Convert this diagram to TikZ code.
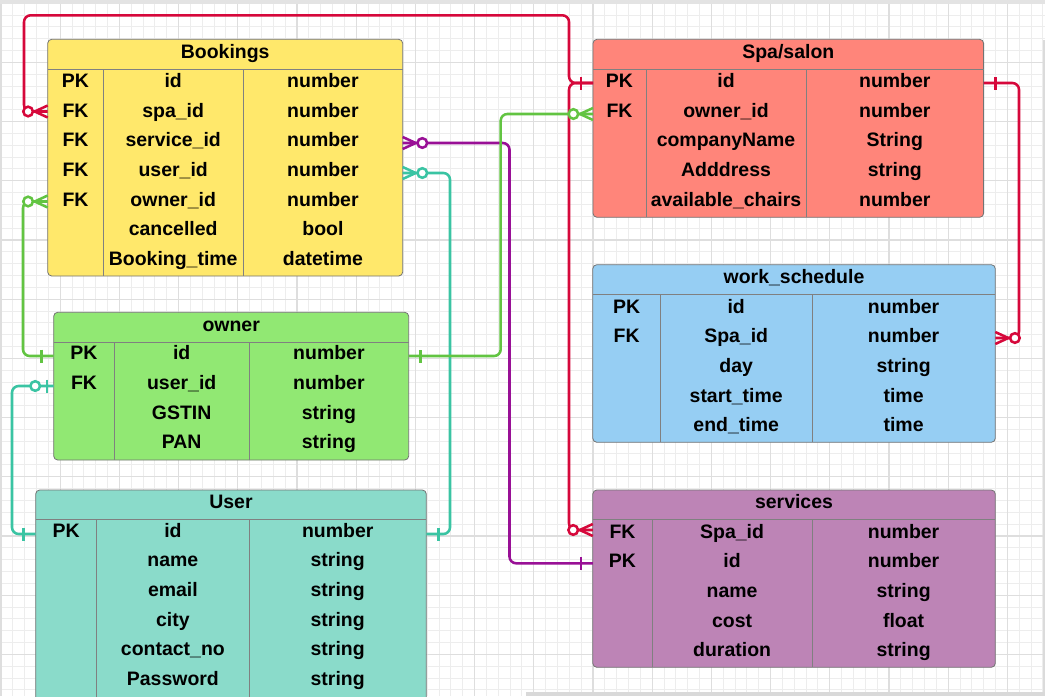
\documentclass[tikz,border=0pt]{standalone}
\usepackage{fontspec}
\setmainfont{Liberation Sans}
\definecolor{cRed}{HTML}{D6083B}
\definecolor{cGreen}{HTML}{62C442}
\definecolor{cTeal}{HTML}{3AC4A3}
\definecolor{cPurple}{HTML}{991096}
\definecolor{fBk}{HTML}{FFE86B}
\definecolor{fSp}{HTML}{FF857A}
\definecolor{fOw}{HTML}{91E873}
\definecolor{fUs}{HTML}{8ADBCA}
\definecolor{fWs}{HTML}{96CEF3}
\definecolor{fSv}{HTML}{BD84B6}
\definecolor{gMinor}{HTML}{EDEDED}
\definecolor{gMajor}{HTML}{DEDEDE}
\tikzset{
  tbl/.style={draw=black!55, line width=0.6pt, rounded corners=3pt, inner sep=0pt, outer sep=0pt},
  divl/.style={draw=black!50, line width=0.6pt},
  cell/.style={inner sep=0pt, text height=9.6pt, text depth=0pt, font=\fontsize{14.6pt}{17pt}\selectfont\bfseries},
  conn/.style={line width=1.9pt, rounded corners=5pt},
  lnred/.style={conn, draw=cRed},
  lngreen/.style={conn, draw=cGreen},
  lnteal/.style={conn, draw=cTeal},
  lnpurple/.style={conn, draw=cPurple},
  crowmany/.pic={\draw[pic actions, sharp corners] (0,-6) -- (-13,0) -- (0,6);
                 \draw[pic actions, fill=white] (-19.6,0) circle (3.6pt);},
  barone/.pic={\draw[pic actions] (-12,-6.5) -- (-12,6.5);},
  zeroone/.pic={\draw[pic actions] (-6.5,-6.5) -- (-6.5,6.5);
                \draw[pic actions, fill=white] (-18.5,0) circle (3.6pt);}
}
\newcommand\ertbl[6]{\node[tbl, fill=#2, minimum width={(#5-#3)*0.75pt}, minimum height={(#6-#4)*0.75pt}] (#1) at ({(#3+#5)/2},{(#4+#6)/2}) {};}
\newcommand\erdiv[6]{\draw[divl] (#1,#3) -- (#2,#3) (#5,#3) -- (#5,#4) (#6,#3) -- (#6,#4);}
\newcommand\errow[6]{%
  \if\relax\detokenize{#4}\relax\else\node[cell] (#1-k#2) at (\colA,#3) {#4};\fi
  \node[cell] (#1-n#2) at (\colB,#3) {#5};
  \node[cell] (#1-t#2) at (\colC,#3) {#6};}
\begin{document}
\begin{tikzpicture}[x=0.75pt,y=-0.75pt]
\useasboundingbox (0,0) rectangle (1045,696);
\fill[white] (0,0) rectangle (1045,696);
% grid
\foreach \i in {0,...,88} {\draw[gMinor, line width=0.75pt] ({1+11.84*\i},0) -- ({1+11.84*\i},696);}
\foreach \j in {0,...,58} {\draw[gMinor, line width=0.75pt] (0,{3.2+11.84*\j}) -- (1045,{3.2+11.84*\j});}
\foreach \i in {0,...,17} {\draw[gMajor, line width=0.9pt] ({1+59.2*\i},0) -- ({1+59.2*\i},696);}
\foreach \j in {0,...,11} {\draw[gMajor, line width=0.9pt] (0,{3.2+59.2*\j}) -- (1045,{3.2+59.2*\j});}
\fill[gray!22] (0,0) rectangle (1045,3.5);
\fill[gray!28] (1042.5,40) rectangle (1045,696);
\fill[gray!30] (526,692) rectangle (1045,696);

% Bookings
\ertbl{bk}{fBk}{47.7}{39.3}{402.7}{276}
\erdiv{47.7}{402.7}{69.3}{276}{103.3}{243}
\node[cell] (bk-title) at (225.2,52.3) {Bookings};
\def\colA{75.5}\def\colB{173.2}\def\colC{322.9}
\errow{bk}{1}{81}{PK}{id}{number}
\errow{bk}{2}{110.7}{FK}{spa\_id}{number}
\errow{bk}{3}{140.3}{FK}{service\_id}{number}
\errow{bk}{4}{170}{FK}{user\_id}{number}
\errow{bk}{5}{199.7}{FK}{owner\_id}{number}
\errow{bk}{6}{229.3}{}{cancelled}{bool}
\errow{bk}{7}{259}{}{Booking\_time}{datetime}

% Spa/salon
\ertbl{sp}{fSp}{593}{39.3}{983.6}{217.3}
\erdiv{593}{983.6}{69.3}{217.3}{646}{806}
\node[cell] (sp-title) at (788.3,52.3) {Spa/salon};
\def\colA{619.5}\def\colB{726}\def\colC{894.8}
\errow{sp}{1}{81}{PK}{id}{number}
\errow{sp}{2}{110.7}{FK}{owner\_id}{number}
\errow{sp}{3}{140.3}{}{companyName}{String}
\errow{sp}{4}{170}{}{Adddress}{string}
\errow{sp}{5}{199.7}{}{available\_chairs}{number}

% owner
\ertbl{ow}{fOw}{53.7}{312.3}{408.7}{460}
\erdiv{53.7}{408.7}{342}{460}{114.3}{249}
\node[cell] (ow-title) at (231.2,325) {owner};
\def\colA{84}\def\colB{181.7}\def\colC{328.9}
\errow{ow}{1}{353.3}{PK}{id}{number}
\errow{ow}{2}{383}{FK}{user\_id}{number}
\errow{ow}{3}{412.7}{}{GSTIN}{string}
\errow{ow}{4}{442.3}{}{PAN}{string}

% User
\ertbl{us}{fUs}{35.7}{490}{426.3}{712}
\erdiv{35.7}{426.3}{519.3}{712}{96.7}{249}
\node[cell] (us-title) at (231,501.7) {User};
\def\colA{66.2}\def\colB{172.9}\def\colC{337.7}
\errow{us}{1}{530.7}{PK}{id}{number}
\errow{us}{2}{560.3}{}{name}{string}
\errow{us}{3}{590}{}{email}{string}
\errow{us}{4}{619.6}{}{city}{string}
\errow{us}{5}{649.2}{}{contact\_no}{string}
\errow{us}{6}{678.8}{}{Password}{string}

% work_schedule
\ertbl{ws}{fWs}{592.8}{264.7}{995.3}{442.3}
\erdiv{592.8}{995.3}{294.3}{442.3}{660.5}{811.9}
\node[cell] (ws-title) at (794,277.3) {work\_schedule};
\def\colA{626.6}\def\colB{736.2}\def\colC{903.6}
\errow{ws}{1}{306.7}{PK}{id}{number}
\errow{ws}{2}{336.3}{FK}{Spa\_id}{number}
\errow{ws}{3}{366}{}{day}{string}
\errow{ws}{4}{395.6}{}{start\_time}{time}
\errow{ws}{5}{425.2}{}{end\_time}{time}

% services
\ertbl{sv}{fSv}{592.8}{490}{995.3}{667.3}
\erdiv{592.8}{995.3}{519.3}{667.3}{652.3}{811.9}
\node[cell] (sv-title) at (794,502.3) {services};
\def\colA{622.5}\def\colB{732.1}\def\colC{903.6}
\errow{sv}{1}{531.7}{FK}{Spa\_id}{number}
\errow{sv}{2}{561.3}{PK}{id}{number}
\errow{sv}{3}{591}{}{name}{string}
\errow{sv}{4}{620.6}{}{cost}{float}
\errow{sv}{5}{650.2}{}{duration}{string}

% connection points
\coordinate (spPKw) at (sp.west |- 0,83);
\coordinate (spPKe) at (sp.east |- 0,83);
\coordinate (spOWw) at (sp.west |- 0,114);
\coordinate (bkSPw) at (bk.west |- 0,111.5);
\coordinate (bkOWw) at (bk.west |- 0,201.5);
\coordinate (bkSVe) at (bk.east |- 0,143);
\coordinate (bkUSe) at (bk.east |- 0,173);
\coordinate (owPKw) at (ow.west |- 0,356);
\coordinate (owPKe) at (ow.east |- 0,356);
\coordinate (owUSw) at (ow.west |- 0,386);
\coordinate (usPKw) at (us.west |- 0,534);
\coordinate (usPKe) at (us.east |- 0,534);
\coordinate (wsFKe) at (ws.east |- 0,338);
\coordinate (svFKw) at (sv.west |- 0,530);
\coordinate (svPKw) at (sv.west |- 0,563.3);

% connectors
\draw[lnred] (spPKw) -- (569,83) |- (24,15.3) |- (bkSPw);
\draw[lnred] (spPKw) -- (569,83) |- (svFKw);
\draw[lnred] (spPKe) -- (1019,83) |- (wsFKe);
\draw[lnteal] (usPKw) -- (12,534) |- (owUSw);
\draw[lnteal] (usPKe) -- (450,534) |- (bkUSe);
\draw[lnpurple] (svPKw) -- (509.5,563.3) |- (bkSVe);
\draw[lngreen] (owPKw) -- (23,356) |- (bkOWw);
\draw[lngreen] (owPKe) -- (500.7,356) |- (spOWw);

% cardinality marks
\pic[lnred] at (spPKw) {barone};
\pic[lnred] at (bkSPw) {crowmany};
\pic[lnred] at (svFKw) {crowmany};
\pic[lnred, rotate=180] at (spPKe) {barone};
\pic[lnred, rotate=180] at (wsFKe) {crowmany};
\pic[lnteal] at (usPKw) {barone};
\pic[lnteal] at (owUSw) {zeroone};
\pic[lnteal, rotate=180] at (usPKe) {barone};
\pic[lnteal, rotate=180] at (bkUSe) {crowmany};
\pic[lnpurple] at (svPKw) {barone};
\pic[lnpurple, rotate=180] at (bkSVe) {crowmany};
\pic[lngreen] at (owPKw) {barone};
\pic[lngreen] at (bkOWw) {crowmany};
\pic[lngreen, rotate=180] at (owPKe) {barone};
\pic[lngreen] at (spOWw) {crowmany};
\end{tikzpicture}
\end{document}
